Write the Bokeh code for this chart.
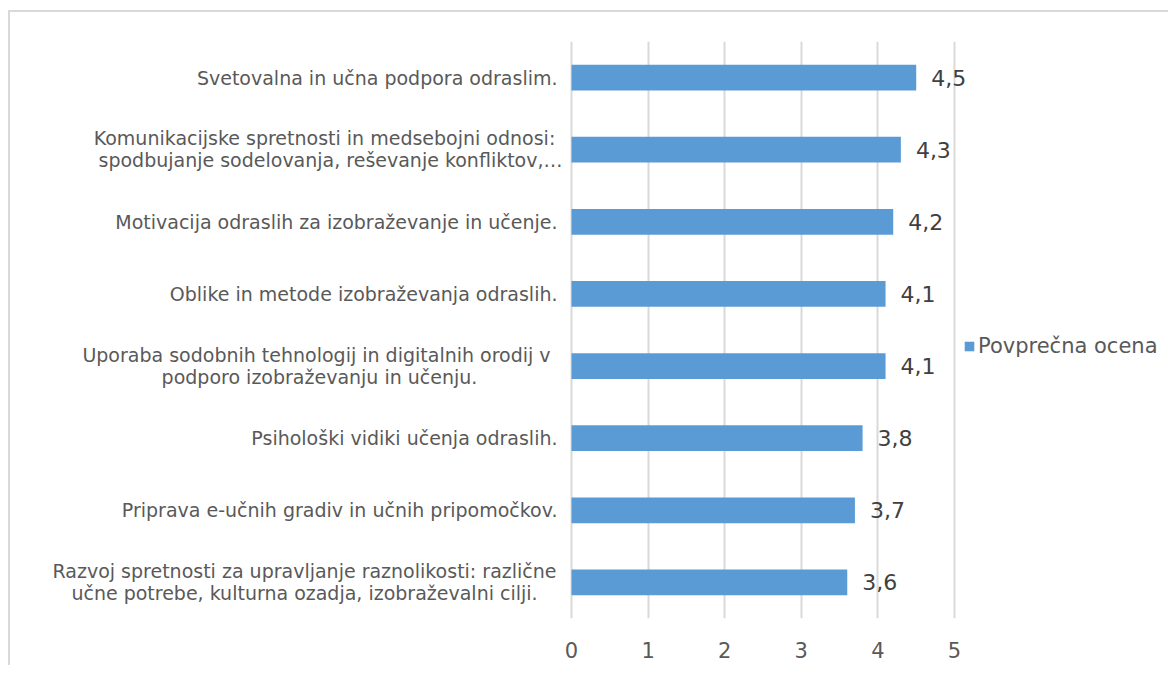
from bokeh.plotting import figure
from bokeh.embed import file_html
from bokeh.resources import INLINE
from bokeh.models import (Range1d, FixedTicker, Legend, LegendItem,
                          ColumnDataSource)
from bokeh.core.properties import value

# ---- data (top to bottom as shown) ----
categories = [
    "Svetovalna in učna podpora odraslim.",
    "Komunikacijske spretnosti in medsebojni odnosi:\nspodbujanje sodelovanja, reševanje konfliktov,…",
    "Motivacija odraslih za izobraževanje in učenje.",
    "Oblike in metode izobraževanja odraslih.",
    "Uporaba sodobnih tehnologij in digitalnih orodij v\npodporo izobraževanju in učenju.",
    "Psihološki vidiki učenja odraslih.",
    "Priprava e-učnih gradiv in učnih pripomočkov.",
    "Razvoj spretnosti za upravljanje raznolikosti: različne\nučne potrebe, kulturna ozadja, izobraževalni cilji.",
]
values = [4.5, 4.3, 4.2, 4.1, 4.1, 3.8, 3.7, 3.6]
value_labels = ["4,5", "4,3", "4,2", "4,1", "4,1", "3,8", "3,7", "3,6"]
x_ticks = [0, 1, 2, 3, 4, 5]
series_name = "Povprečna ocena"

# ---- layout / style ----
FONT = "DejaVu Sans"
W, H = 1160, 655
top_b, bottom_b = 29, 49
axis_px = 561            # canvas x of value 0
px_per_unit = 383.0 / 5  # spacing of the value axis
x_start = -axis_px / px_per_unit
x_end = (W - axis_px) / px_per_unit
n = len(categories)
ypos = [n - 1 - i for i in range(n)]

label_standoff = 14
line_offsets = (-11.5, 10.5)
# horizontal centre (px left of the axis) of each line of wrapped, centred labels
line_centre = {1: (247, 241), 4: (255, 252), 7: (267, 267)}

src = ColumnDataSource(dict(y=ypos, val=values, lab=value_labels))

p = figure(width=W, height=H, output_backend="svg", toolbar_location=None,
           y_range=Range1d(-0.5, n - 0.5), x_range=Range1d(x_start, x_end),
           min_border_left=0, min_border_right=0,
           min_border_top=top_b, min_border_bottom=bottom_b)
p.outline_line_color = None
p.background_fill_color = "white"
p.border_fill_color = "white"

r = p.hbar(y="y", right="val", left=0, height=0.356, source=src,
           fill_color="#5B9BD5", line_color=None)

p.text(x="val", y="y", text="lab", source=src, x_offset=15,
       text_baseline="middle", text_align="left", text_color="#404040",
       text_font=value(FONT), text_font_size="22px")

# category labels: single lines right-aligned, wrapped labels centred
single = dict(x=[], y=[], text=[])
multi = dict(x=[], y=[], text=[], xo=[], yo=[])
for i, cat in enumerate(categories):
    lines = cat.split("\n")
    if len(lines) == 1:
        single["x"].append(0)
        single["y"].append(ypos[i])
        single["text"].append(lines[0])
    else:
        for j, line in enumerate(lines):
            multi["x"].append(0)
            multi["y"].append(ypos[i])
            multi["text"].append(line)
            multi["xo"].append(-line_centre[i][j])
            multi["yo"].append(line_offsets[j])

common = dict(text_baseline="middle", text_font=value(FONT),
              text_font_size="19px", text_color="#595959")
p.text(x="x", y="y", text="text", x_offset=-label_standoff,
       text_align="right", source=ColumnDataSource(single), **common)
p.text(x="x", y="y", text="text", x_offset="xo", y_offset="yo",
       text_align="center", source=ColumnDataSource(multi), **common)

p.xaxis.ticker = FixedTicker(ticks=x_ticks)
p.xaxis.axis_line_color = None
p.xaxis.major_tick_line_color = None
p.xaxis.minor_tick_line_color = None
p.xaxis.major_label_text_font = FONT
p.xaxis.major_label_text_font_size = "21px"
p.xaxis.major_label_text_color = "#595959"
p.xaxis.major_label_standoff = 17

p.yaxis.visible = False

p.xgrid.ticker = FixedTicker(ticks=x_ticks)
p.xgrid.grid_line_color = "#D9D9D9"
p.xgrid.grid_line_width = 2
p.ygrid.grid_line_color = None

legend = Legend(items=[LegendItem(label=series_name, renderers=[r])],
                location=(axis_px + 392, 260), orientation="vertical",
                border_line_color=None, background_fill_alpha=0,
                label_text_font=FONT, label_text_font_size="21px",
                label_text_color="#595959", glyph_width=12, glyph_height=12,
                label_standoff=3, padding=0, margin=0)
p.add_layout(legend)

p.styles = {"border-left": "2px solid #D9D9D9", "border-top": "2px solid #D9D9D9",
            "margin-left": "8px", "margin-top": "10px"}

open("out.html", "w").write(file_html(p, INLINE))
